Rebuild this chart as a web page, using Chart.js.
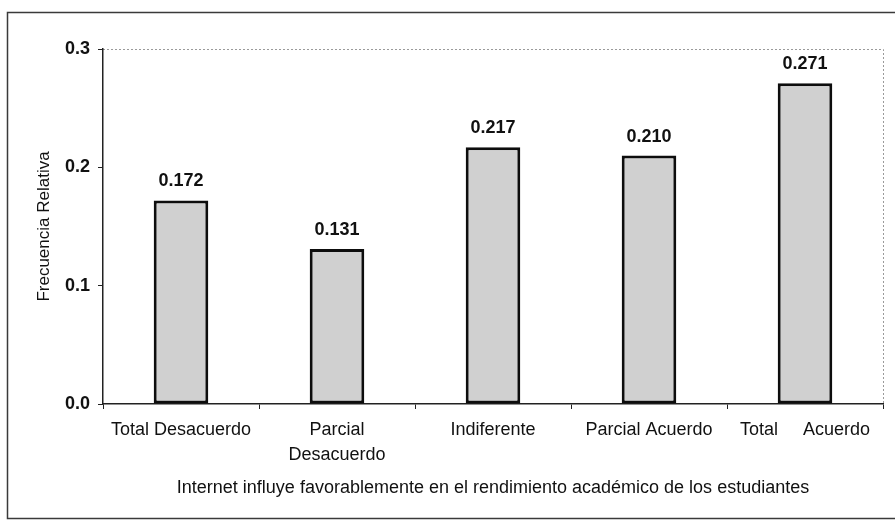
<!DOCTYPE html>
<html>
<head>
<meta charset="utf-8">
<script src="https://cdn.jsdelivr.net/npm/chart.js@4"></script>
<style>
  html, body { margin: 0; padding: 0; background: #fff; }
  #wrap { width: 895px; height: 521px; position: relative; }
</style>
</head>
<body>
<div id="wrap"><canvas id="chart" width="895" height="521"></canvas></div>
<script>
const categorias = ["Total Desacuerdo", ["Parcial", "Desacuerdo"], "Indiferente", "Parcial Acuerdo", "Total     Acuerdo"]
const frecuencias = [0.172, 0.131, 0.217, 0.210, 0.271]
const ticksY = [0.0, 0.1, 0.2, 0.3]

const fuente = "'Liberation Sans', Arial, sans-serif"

// marco exterior y borde punteado del área de trazado
const marco = {
     id: "marco",
     beforeDraw(chart) {
          const ctx = chart.ctx
          const a = chart.chartArea
          ctx.save()
          ctx.strokeStyle = "#3a3a3a"
          ctx.lineWidth = 1.5
          ctx.strokeRect(7.5, 12.5, 900, 506)
          ctx.strokeStyle = "#9a9a9a"
          ctx.lineWidth = 1
          ctx.setLineDash([2, 2])
          ctx.beginPath()
          ctx.moveTo(a.left, a.top + 0.5)
          ctx.lineTo(a.right + 0.5, a.top + 0.5)
          ctx.lineTo(a.right + 0.5, a.bottom)
          ctx.stroke()
          ctx.restore()
     }
}

// valores encima de cada barra
const etiquetas = {
     id: "etiquetas",
     afterDatasetsDraw(chart) {
          const ctx = chart.ctx
          const meta = chart.getDatasetMeta(0)
          ctx.save()
          ctx.font = "bold 18px " + fuente
          ctx.fillStyle = "#111"
          ctx.textAlign = "center"
          ctx.textBaseline = "alphabetic"
          meta.data.forEach(function (bar, i) {
               ctx.fillText(frecuencias[i].toFixed(3), bar.x, bar.y - 14)
          })
          ctx.restore()
     }
}

const grafico = new Chart(document.getElementById("chart"), {
     type: "bar",
     data: {
          labels: categorias,
          datasets: [{
               data: frecuencias,
               backgroundColor: "#d0d0d0",
               borderColor: "#0d0d0d",
               borderWidth: 3,
               borderSkipped: false,
               categoryPercentage: 1,
               barPercentage: 0.35
          }]
     },
     options: {
          responsive: false,
          animation: false,
          devicePixelRatio: 1,
          layout: { padding: { top: 49, right: 12, left: 0, bottom: 0 } },
          plugins: {
               legend: { display: false },
               tooltip: { enabled: false }
          },
          scales: {
               x: {
                    afterFit: function (s) { s.height = 117 },
                    grid: {
                         drawOnChartArea: false,
                         drawTicks: true,
                         tickLength: 5,
                         tickColor: "#222",
                         offset: true
                    },
                    border: { color: "#222", width: 1.5 },
                    ticks: {
                         color: "#111",
                         padding: 9,
                         maxRotation: 0,
                         autoSkip: false,
                         font: { family: fuente, size: 18, lineHeight: 1.39 }
                    },
                    title: {
                         display: true,
                         text: "Internet influye favorablemente en el rendimiento académico de los estudiantes",
                         color: "#111",
                         padding: { top: 0, bottom: 22 },
                         font: { family: fuente, size: 18 }
                    }
               },
               y: {
                    min: 0,
                    max: 0.3,
                    afterFit: function (s) { s.width = 103 },
                    afterBuildTicks: function (s) { s.ticks = ticksY.map(v => ({ value: v })) },
                    grid: {
                         drawOnChartArea: false,
                         drawTicks: true,
                         tickLength: 5,
                         tickColor: "#222"
                    },
                    border: { color: "#222", width: 1.5 },
                    ticks: {
                         color: "#111",
                         padding: 8,
                         font: { family: fuente, size: 18, weight: "bold" },
                         callback: v => Number(v).toFixed(1)
                    },
                    title: {
                         display: true,
                         text: "Frecuencia Relativa",
                         color: "#111",
                         padding: { top: 34, bottom: 0 },
                         font: { family: fuente, size: 17 }
                    }
               }
          }
     },
     plugins: [marco, etiquetas]
})
</script>
</body>
</html>
